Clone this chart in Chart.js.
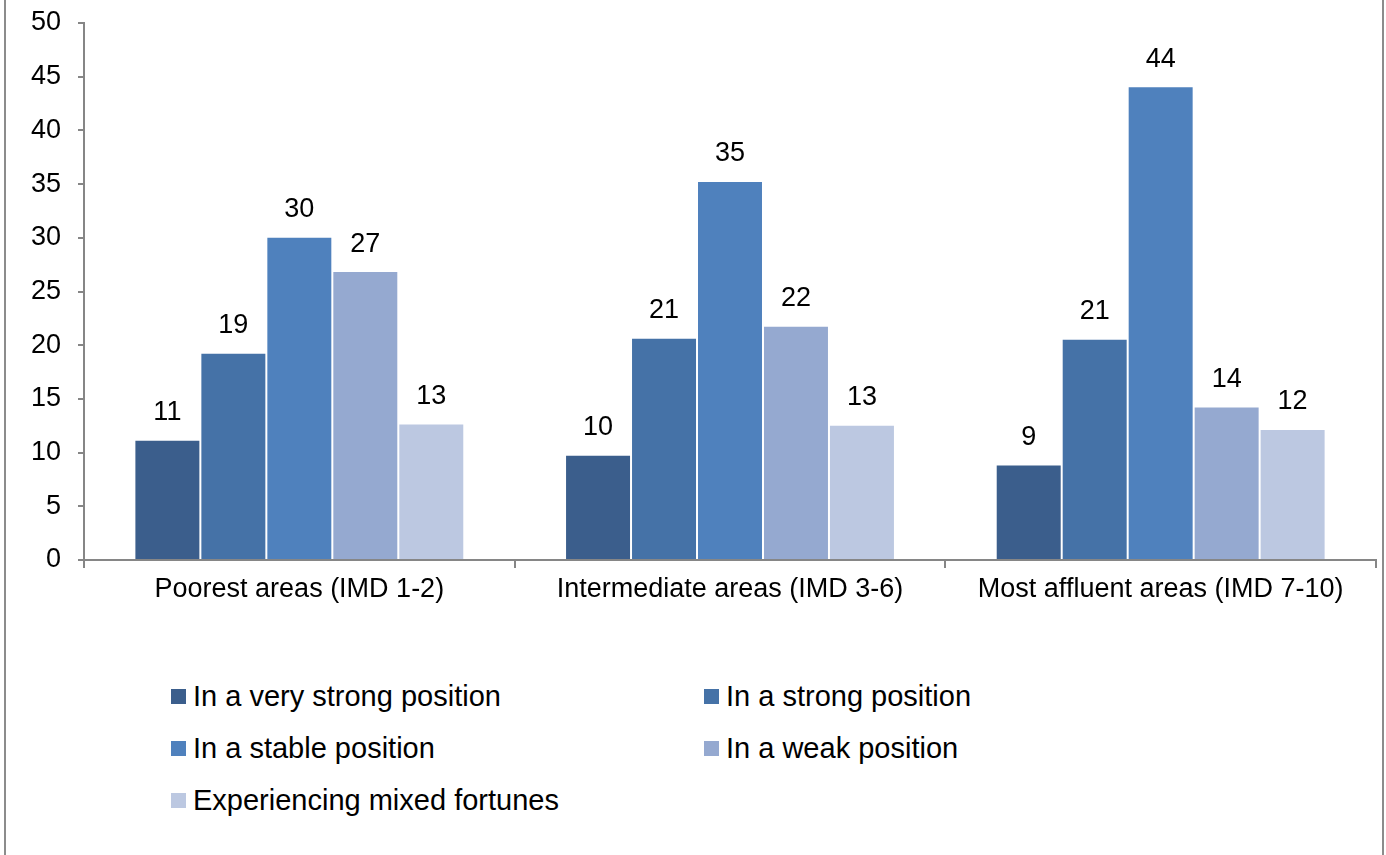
<!DOCTYPE html>
<html>
<head>
<meta charset="utf-8">
<script src="https://cdn.jsdelivr.net/npm/chart.js@4"></script>
<style>
  body { margin: 0; background: #fff; }
  #frame { position: relative; width: 1386px; height: 855px; overflow: hidden; font-family: Arial, "Liberation Sans", sans-serif; }
  #frame:before, #frame:after { content: ''; position: absolute; top: 0; bottom: 0; width: 2px; background: #8c8c8c; }
  #frame:before { left: 4px; }
  #frame:after { left: 1382px; }
  #chart-box { position: absolute; left: 0; top: 0; width: 1386px; height: 620px; }
  #legend { position: absolute; left: 171px; top: 670px; display: grid; grid-template-columns: 533px 400px; grid-auto-rows: 52px; font-size: 29px; color: #000; }
  .item { display: flex; align-items: center; white-space: nowrap; }
  .swatch { width: 15px; height: 15px; margin-right: 7px; flex: none; }
</style>
</head>
<body>
<div id="frame">
  <div id="chart-box"><canvas id="my-chart"></canvas></div>
  <div id="legend"></div>
</div>
<script>
'use strict';

let areaNames = ['Poorest areas (IMD 1-2)', 'Intermediate areas (IMD 3-6)', 'Most affluent areas (IMD 7-10)'];
let seriesNames = ['In a very strong position', 'In a strong position', 'In a stable position', 'In a weak position', 'Experiencing mixed fortunes'];
let veryStrong = [11.2, 9.8, 8.9];
let strong = [19.3, 20.7, 20.6];
let stable = [30.1, 35.3, 44.1];
let weak = [26.9, 21.8, 14.3];
let mixed = [12.7, 12.6, 12.2];
let yTicks = [0, 5, 10, 15, 20, 25, 30, 35, 40, 45, 50];
let barColors = ['#3b5e8c', '#4572a7', '#4f81bd', '#95a9d0', '#bcc8e1'];

let seriesValues = [veryStrong, strong, stable, weak, mixed];

// value labels above each bar
let barLabels = {
  id: 'barLabels',
  afterDatasetsDraw(chart) {
    let ctx = chart.ctx;
    ctx.save();
    ctx.font = '27px Arial, "Liberation Sans", sans-serif';
    ctx.fillStyle = '#000';
    ctx.textAlign = 'center';
    ctx.textBaseline = 'middle';
    chart.data.datasets.forEach((ds, i) => {
      chart.getDatasetMeta(i).data.forEach((bar, j) => {
        ctx.fillText(Math.round(ds.data[j]), bar.x, bar.y - 27);
      });
    });
    ctx.restore();
  }
};

function renderChart() {
  let datasets = [];
  for (let i = 0; i < seriesNames.length; i++) {
    datasets.push({
      label: seriesNames[i],
      data: seriesValues[i],
      backgroundColor: barColors[i],
      borderColor: 'rgba(255,255,255,0.12)',
      borderWidth: 1,
      categoryPercentage: 0.766,
      barPercentage: 1
    });
  }

  Chart.defaults.font.family = 'Arial, "Liberation Sans", sans-serif';
  Chart.defaults.color = '#000';

  new Chart(document.getElementById('my-chart'), {
    type: 'bar',
    data: { labels: areaNames, datasets: datasets },
    options: {
      responsive: true,
      maintainAspectRatio: false,
      animation: false,
      layout: { padding: { top: 23, right: 10, left: 0, bottom: 0 } },
      plugins: { legend: { display: false }, tooltip: { enabled: false } },
      scales: {
        x: {
          offset: true,
          grid: { drawOnChartArea: false, offset: true, tickLength: 8, color: '#868686', lineWidth: 2 },
          border: { color: '#868686', width: 2 },
          ticks: { font: { size: 27 }, padding: 5, color: '#000' },
          afterFit(scale) { scale.height = 60; scale.paddingLeft = 0; scale.paddingRight = 0; }
        },
        y: {
          min: 0,
          max: 50,
          afterBuildTicks(scale) { scale.ticks = yTicks.map(v => ({ value: v })); },
          grid: { drawOnChartArea: false, tickLength: 6, color: '#868686', lineWidth: 2 },
          border: { color: '#868686', width: 2 },
          ticks: { font: { size: 27 }, padding: 17, color: '#000' },
          afterFit(scale) { scale.width = 84; scale.paddingTop = 0; scale.paddingBottom = 0; }
        }
      }
    },
    plugins: [barLabels]
  });
}

function renderLegend() {
  let legend = document.getElementById('legend');
  for (let i = 0; i < seriesNames.length; i++) {
    let item = document.createElement('div');
    item.className = 'item';
    let sw = document.createElement('span');
    sw.className = 'swatch';
    sw.style.background = barColors[i];
    let txt = document.createElement('span');
    txt.textContent = seriesNames[i];
    item.appendChild(sw);
    item.appendChild(txt);
    legend.appendChild(item);
  }
}

renderChart();
renderLegend();
</script>
</body>
</html>
